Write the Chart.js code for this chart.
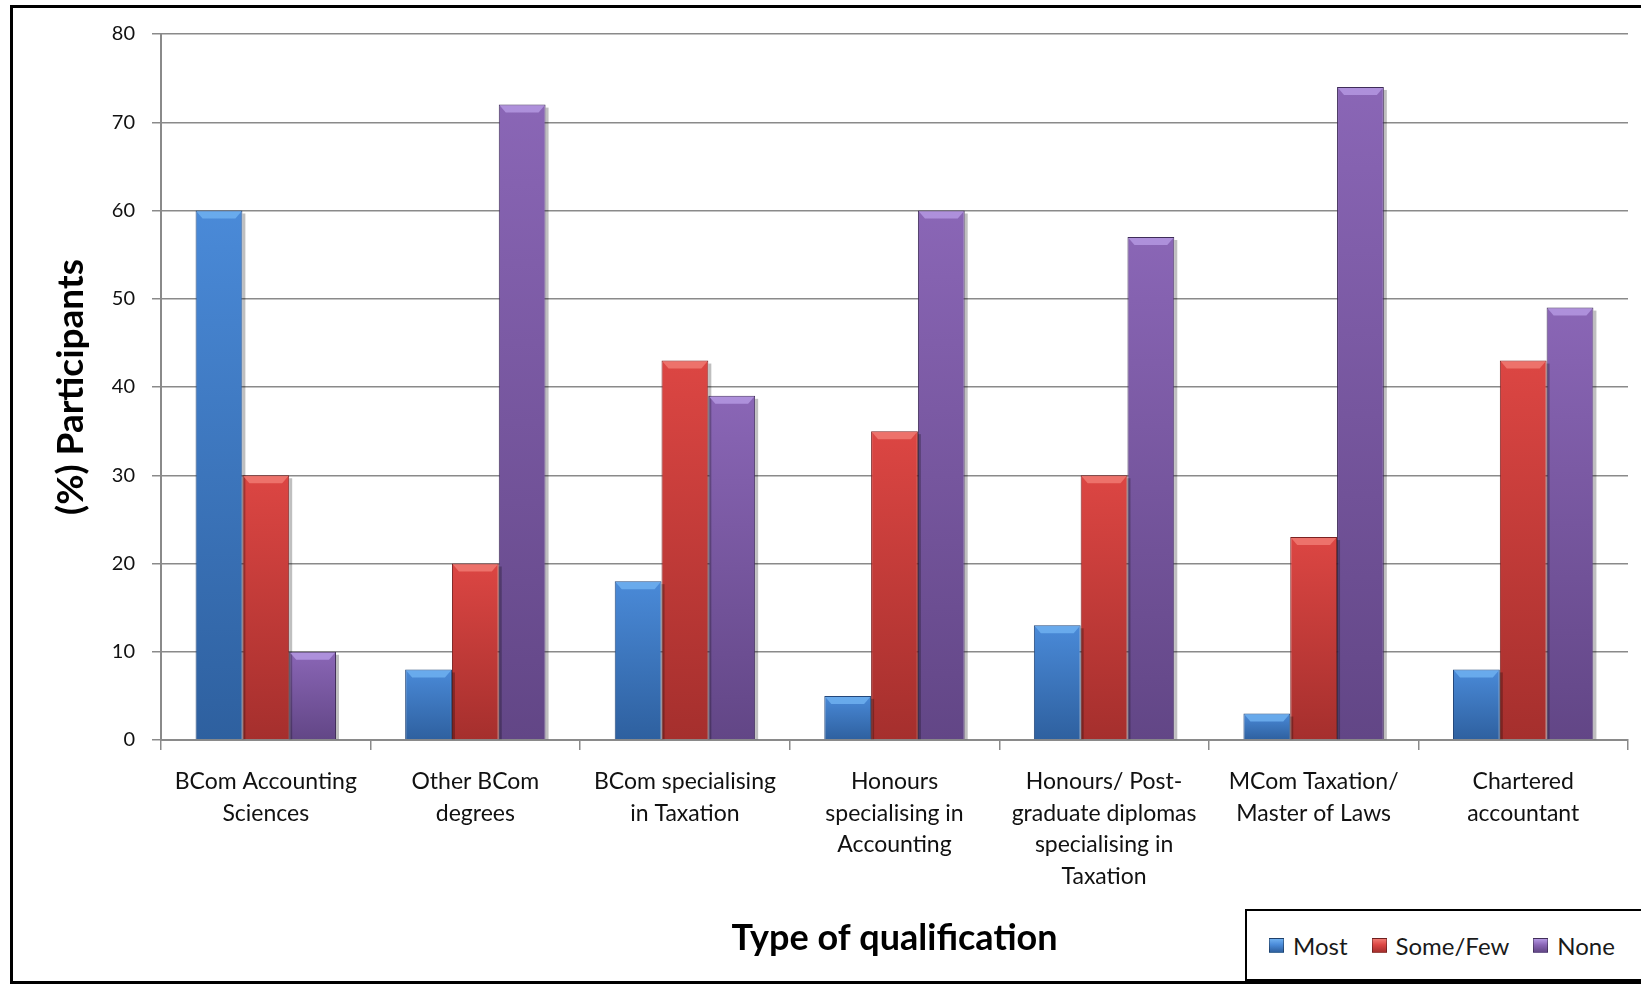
<!DOCTYPE html>
<html>
<head>
<meta charset="utf-8">
<script src="https://cdn.jsdelivr.net/npm/chart.js@4.4.1/dist/chart.umd.min.js"></script>
<style>
body{margin:0;background:#fff;overflow:hidden}
#wrap{position:relative;width:1641px;height:990px}
#frame{position:absolute;left:10px;top:5px;width:1700px;height:979px;border:3px solid #000;box-sizing:border-box}
#c{position:absolute;left:0;top:0}
#legend{position:absolute;left:1245px;top:909px;width:450px;height:72px;border:2px solid #000;box-sizing:border-box;background:#fff;
font-family:Lato,"Open Sans",sans-serif;font-size:24px;color:#1a1a1a;display:flex;align-items:center;padding-left:22px}
#legend span.item{display:flex;align-items:center;margin-right:24px}
#legend span.sw{width:15px;height:15px;margin-right:9px;display:inline-block;box-sizing:border-box;border:1px solid rgba(0,0,0,.35)}
</style>
</head>
<body>
<div id="wrap">
<div id="frame"></div>
<canvas id="c" width="1641" height="990"></canvas>
<div id="legend"></div>
</div>
<script>
const categories=[
["BCom Accounting","Sciences"],
["Other BCom","degrees"],
["BCom specialising","in Taxation"],
["Honours","specialising in","Accounting"],
["Honours/ Post-","graduate diplomas","specialising in","Taxation"],
["MCom Taxation/","Master of Laws"],
["Chartered","accountant"]
]
const seriesNames=["Most","Some/Few","None"]
const most=[60,8,18,5,13,3,8]
const someFew=[30,20,43,35,30,23,43]
const none=[10,72,39,60,57,74,49]
const yTicks=[0,10,20,30,40,50,60,70,80]

const colors=[
{top:"#4a8ad8",bottom:"#2e609f",hi:"#6fb0f0",edge:"#23477a"},
{top:"#dc4643",bottom:"#a52f2d",hi:"#f07a72",edge:"#7a2120"},
{top:"#8a66b6",bottom:"#624686",hi:"#b498e2",edge:"#3f2c58"}
]

function barFill(i){
return function(ctx){
let chart=ctx.chart
let a=chart.chartArea
if(!a) return colors[i].top
let ys=chart.scales.y
let top=ys.getPixelForValue(ctx.raw||0)
if(!isFinite(top)||top>=a.bottom-1) top=a.bottom-2
let g=chart.ctx.createLinearGradient(0,top,0,a.bottom)
g.addColorStop(0,colors[i].top)
g.addColorStop(1,colors[i].bottom)
return g
}
}

// light bevel on top of each bar
const bevel={
id:"bevel",
afterDatasetsDraw(chart){
let c=chart.ctx
chart.data.datasets.forEach((ds,i)=>{
let meta=chart.getDatasetMeta(i)
meta.data.forEach(bar=>{
let w=bar.width,x0=bar.x-w/2,x1=bar.x+w/2,y=bar.y
let h=Math.min(8,(bar.base-y)/2)
c.save()
c.fillStyle=colors[i].hi
c.globalAlpha=0.85
c.beginPath()
c.moveTo(x0+1,y+1)
c.lineTo(x1-1,y+1)
c.lineTo(x1-7,y+h)
c.lineTo(x0+7,y+h)
c.closePath()
c.fill()
c.globalAlpha=0.25
c.fillStyle="#000"
c.fillRect(x1,y+3,3,bar.base-y-3)
c.restore()
})
})
}
}

const gridCol="#8a8a8a"
const font="Lato, 'Open Sans', sans-serif"

let chart=new Chart(document.getElementById("c"),{
type:"bar",
data:{
labels:categories,
datasets:[
{label:seriesNames[0],data:most,backgroundColor:barFill(0),borderColor:colors[0].edge,borderWidth:1},
{label:seriesNames[1],data:someFew,backgroundColor:barFill(1),borderColor:colors[1].edge,borderWidth:1},
{label:seriesNames[2],data:none,backgroundColor:barFill(2),borderColor:colors[2].edge,borderWidth:1}
]
},
options:{
responsive:false,
animation:false,
devicePixelRatio:1,
layout:{padding:{left:0,top:34,right:13,bottom:0}},
plugins:{legend:{display:false},tooltip:{enabled:false}},
datasets:{bar:{categoryPercentage:0.67,barPercentage:1}},
scales:{
x:{
grid:{display:true,drawOnChartArea:false,drawTicks:true,tickLength:10,color:gridCol,lineWidth:1.5,offset:true},
border:{color:gridCol,width:2},
ticks:{color:"#111",font:{family:font,size:23,lineHeight:1.37},padding:16,maxRotation:0,autoSkip:false},
title:{display:true,text:"Type of qualification",color:"#000",font:{family:font,size:36,weight:"bold"},padding:{top:0,bottom:30}},
afterFit(s){s.height=250}
},
y:{
min:0,max:80,
afterBuildTicks(s){s.ticks=yTicks.map(v=>({value:v}))},
grid:{color:gridCol,lineWidth:1.5,drawTicks:true,tickLength:9},
border:{color:gridCol,width:2},
ticks:{color:"#111",font:{family:font,size:20},padding:17},
title:{display:true,text:"(%) Participants",color:"#000",font:{family:font,size:37,weight:"bold"},padding:{top:49,bottom:0}},
afterFit(s){s.width=161}
}
}
},
plugins:[bevel]
})

let lg=document.getElementById("legend")
chart.data.datasets.forEach((ds,i)=>{
let it=document.createElement("span")
it.className="item"
it.innerHTML=`<span class="sw" style="background:linear-gradient(${colors[i].hi},${colors[i].top} 45%,${colors[i].bottom})"></span>${ds.label}`
lg.appendChild(it)
})
</script>
</body>
</html>
